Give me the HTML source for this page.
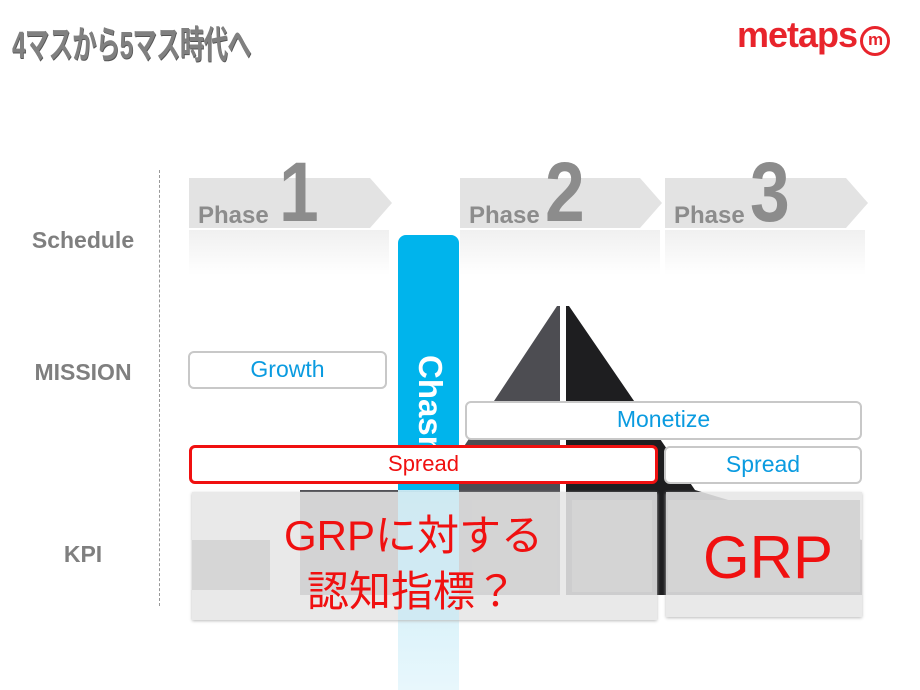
<!DOCTYPE html>
<html><head><meta charset="utf-8"><style>
body{margin:0;width:920px;height:690px;background:#fff;position:relative;overflow:hidden;font-family:"Liberation Sans","Noto Sans CJK JP",sans-serif}
.a{position:absolute}
.lbl{position:absolute;color:#7f7f7f;font-weight:bold;font-size:23px;width:140px;text-align:center;left:13px}
.box{position:absolute;background:#fff;border:2px solid #c8c8c8;border-radius:6px;box-sizing:border-box;text-align:center;font-size:23px;color:#0a9be0;line-height:33px}
.ph{position:absolute;font-weight:bold;color:#8c8c8c}
</style></head><body>
<div class="a" style="left:12px;top:14px;font-size:38px;font-weight:bold;color:#808080;letter-spacing:-1px;text-shadow:1px 1px 0 #555;transform-origin:0 0;transform:scaleX(0.64);white-space:nowrap">4マスから5マス時代へ</div>
<div class="a" style="left:737px;top:14px;font-size:36px;font-weight:bold;color:#e8242c;letter-spacing:-1px;white-space:nowrap">metaps<span style="display:inline-block;width:24px;height:24px;border:3px solid #e8242c;border-radius:50%;font-size:17px;line-height:22px;text-align:center;vertical-align:2px;margin-left:3px">m</span></div>

<div class="a" style="left:159px;top:170px;height:436px;border-left:1px dashed #999"></div>
<div class="lbl" style="top:227px">Schedule</div>
<div class="lbl" style="top:359px">MISSION</div>
<div class="lbl" style="top:541px">KPI</div>

<svg class="a" style="left:0;top:0" width="920" height="690">
<defs><linearGradient id="fd" x1="0" y1="0" x2="0" y2="1"><stop offset="0" stop-color="#f0f0f0"/><stop offset="1" stop-color="#fff"/></linearGradient>
<linearGradient id="bl" x1="0" y1="0" x2="0" y2="1"><stop offset="0" stop-color="#c5ebf7"/><stop offset="1" stop-color="#e8f7fc"/></linearGradient></defs>
<rect x="189" y="230" width="200" height="45" fill="url(#fd)"/>
<rect x="460" y="230" width="200" height="45" fill="url(#fd)"/>
<rect x="665" y="230" width="200" height="45" fill="url(#fd)"/>
<polygon points="189,178 370,178 392,203 370,228 189,228" fill="#e3e3e3"/>
<polygon points="460,178 640,178 662,203 640,228 460,228" fill="#e3e3e3"/>
<polygon points="665,178 846,178 868,203 846,228 665,228" fill="#e3e3e3"/>
<polygon points="557,306 560,306 560,595 300,595 300,490 435,490" fill="#4d4d52"/>
<polygon points="566,306 569,306 695,490 862,540 862,595 566,595" fill="#1e1e20"/>
<rect x="398" y="235" width="61" height="455" rx="8" fill="#00b4ec"/>
<rect x="398" y="490" width="61" height="200" fill="url(#bl)"/>
</svg>
<div class="a" style="left:448px;top:355px;transform-origin:0 0;transform:rotate(90deg);color:#fff;font-weight:bold;font-size:33px;white-space:nowrap;line-height:36px">Chasm</div>

<div class="ph" style="left:198px;top:202px;font-size:24px">Phase</div>
<div class="ph" style="left:279px;top:150px;font-size:84px;line-height:84px;transform-origin:0 0;transform:scaleX(0.85)">1</div>
<div class="ph" style="left:469px;top:202px;font-size:24px">Phase</div>
<div class="ph" style="left:545px;top:150px;font-size:84px;line-height:84px;transform-origin:0 0;transform:scaleX(0.85)">2</div>
<div class="ph" style="left:674px;top:202px;font-size:24px">Phase</div>
<div class="ph" style="left:750px;top:150px;font-size:84px;line-height:84px;transform-origin:0 0;transform:scaleX(0.85)">3</div>

<div class="box" style="left:188px;top:351px;width:199px;height:38px">Growth</div>
<div class="box" style="left:465px;top:401px;width:397px;height:39px">Monetize</div>
<div class="box" style="left:189px;top:445px;width:469px;height:39px;border:3px solid #f01010;color:#f01010;font-size:22px;line-height:32px">Spread</div>
<div class="box" style="left:664px;top:446px;width:198px;height:38px">Spread</div>

<div class="a" style="left:192px;top:492px;width:465px;height:128px;background:rgba(230,230,230,0.88);box-shadow:0 1px 3px #bbb"></div>
<div class="a" style="left:666px;top:492px;width:196px;height:125px;background:rgba(230,230,230,0.88);box-shadow:0 1px 3px #bbb"></div>
<div class="a" style="left:398px;top:492px;width:61px;height:128px;background:rgba(200,235,247,0.7)"></div>
<div class="a" style="left:192px;top:540px;width:78px;height:50px;background:#d6d6d6"></div>
<div class="a" style="left:472px;top:500px;width:85px;height:92px;background:#d4d4d4"></div>
<div class="a" style="left:572px;top:500px;width:80px;height:92px;background:#d4d4d4"></div>
<div class="a" style="left:668px;top:500px;width:192px;height:92px;background:#d4d4d4"></div>

<div class="a" style="left:284px;top:502px;font-size:42px;color:#f01010;white-space:nowrap">GRPに対する</div>
<div class="a" style="left:307px;top:558px;font-size:42px;color:#f01010;white-space:nowrap">認知指標？</div>
<div class="a" style="left:703px;top:523px;font-size:60px;color:#f01010">GRP</div>
</body></html>
